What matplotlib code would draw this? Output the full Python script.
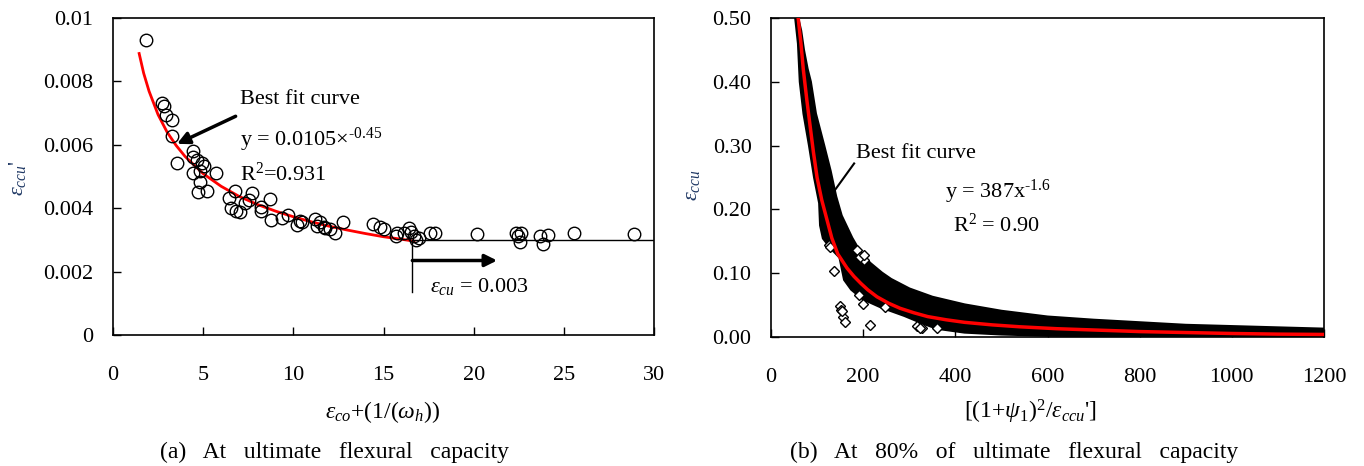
import matplotlib.pyplot as plt
import numpy as np

plt.rcParams['font.family'] = ['Liberation Serif', 'DejaVu Serif']
plt.rcParams['mathtext.fontset'] = 'custom'
plt.rcParams['mathtext.rm'] = 'Liberation Serif'
plt.rcParams['mathtext.it'] = 'Liberation Serif:italic'
plt.rcParams['mathtext.bf'] = 'Liberation Serif:bold'

# ---- (a) measured points ----
a_x = [1.82, 2.74, 2.85, 2.94, 3.26, 3.26, 3.54, 4.46, 4.46, 4.65, 4.93, 5.06, 4.83, 4.46,
       5.72, 4.80, 4.70, 5.24, 6.41, 6.74, 6.54, 6.82, 7.02, 7.33, 7.52, 7.70, 8.20, 8.20,
       8.68, 8.76, 9.37, 9.68, 10.2, 10.35, 10.48, 11.22, 11.32, 11.5, 11.68, 11.78, 12.06,
       12.33, 12.76, 14.43, 14.83, 15.02, 15.76, 15.67, 16.13, 16.41, 16.5, 16.68, 16.96,
       16.78, 17.6, 17.83, 20.2, 22.33, 22.61, 22.46, 22.56, 23.69, 24.13, 23.82, 25.54, 28.87]
a_y = [0.00932, 0.00732, 0.00721, 0.00695, 0.00679, 0.00629, 0.00543, 0.00579, 0.00563,
       0.00553, 0.00543, 0.00532, 0.00516, 0.00511, 0.00511, 0.00484, 0.00450, 0.00453,
       0.00432, 0.00455, 0.00400, 0.00392, 0.00388, 0.00416, 0.00427, 0.00448, 0.00405,
       0.00392, 0.00429, 0.00363, 0.00369, 0.00377, 0.00348, 0.00361, 0.00356, 0.00366,
       0.00344, 0.00358, 0.00342, 0.00337, 0.00334, 0.00321, 0.00355, 0.00351, 0.00342,
       0.00334, 0.00323, 0.00311, 0.00323, 0.00337, 0.00325, 0.00311, 0.00306, 0.00300,
       0.00323, 0.00323, 0.00318, 0.00321, 0.00323, 0.00311, 0.00293, 0.00311, 0.00316,
       0.00288, 0.00323, 0.00319]

# best fit curve (a)
a_fit_x = [1.45, 1.7, 2.0, 2.5, 3.0, 3.5, 4.0, 5.0, 6.0, 7.0, 8.0, 9.0, 10.0, 11.0, 12.0,
           13.0, 14.0, 15.0, 16.0, 16.7]
a_fit_y = [0.00888, 0.00826, 0.00769, 0.00695, 0.00640, 0.00598, 0.00563, 0.00509, 0.00469,
           0.00437, 0.00412, 0.00391, 0.00373, 0.00357, 0.00343, 0.00331, 0.00320, 0.00310,
           0.00302, 0.00296]

eps_cu = 0.003
x_limit = 16.6

# ---- (b) data cloud envelope ----
b_upper_x = [56, 64, 70, 78, 85, 96, 114, 128, 140, 152, 175, 195, 215, 240, 260, 300, 350,
             420, 500, 600, 700, 800, 900, 1000, 1100, 1200, 1205]
b_upper_y = [0.505, 0.48, 0.45, 0.42, 0.40, 0.35, 0.30, 0.26, 0.22, 0.19, 0.155, 0.13, 0.115,
             0.10, 0.09, 0.075, 0.062, 0.05, 0.04, 0.031, 0.026, 0.022, 0.018, 0.016, 0.014,
             0.012, 0.004]
b_lower_x = [54, 60, 64, 72, 84, 95, 106, 108, 114, 130, 150, 160, 175, 200, 240, 290, 330,
             360, 420, 500, 600, 800, 1000, 1205]
b_lower_y = [0.50, 0.46, 0.40, 0.35, 0.30, 0.25, 0.21, 0.175, 0.155, 0.14, 0.125, 0.09, 0.075,
             0.060, 0.047, 0.034, 0.022, 0.014, 0.008, 0.005, 0.003, 0.002, 0.001, 0.001]

# scattered outliers (b)
b_out_x = [125, 137, 150, 152, 156, 161, 199, 215, 248, 190, 202, 186, 317, 327, 360, 128, 154,
           194, 201, 324]
b_out_y = [0.144, 0.104, 0.048, 0.042, 0.031, 0.024, 0.052, 0.019, 0.047, 0.066, 0.121, 0.136,
           0.017, 0.0135, 0.0135, 0.141, 0.040, 0.125, 0.128, 0.0135]

# best fit curve (b)
b_fit_x = [59, 65, 70, 78, 85, 92, 100, 110, 121, 132, 145, 165, 180, 195, 210, 230, 255, 280,
           310, 340, 380, 420, 480, 540, 620, 700, 800, 900, 1000, 1100, 1200]
b_fit_y = [0.50, 0.46, 0.42, 0.37, 0.33, 0.29, 0.25, 0.215, 0.185, 0.155, 0.13, 0.108, 0.095,
           0.084, 0.074, 0.063, 0.053, 0.045, 0.038, 0.032, 0.027, 0.023, 0.019, 0.016, 0.013,
           0.011, 0.0085, 0.007, 0.0055, 0.0045, 0.004]

FS = 16
navy = '#1f3864'

fig = plt.figure(figsize=(13.64, 4.66), dpi=100)
ax1 = fig.add_axes([113/1364, 1-335/466, (654-113)/1364, (335-18)/466])
ax2 = fig.add_axes([771/1364, 1-337/466, (1324-771)/1364, (337-18)/466])

# ----- panel (a) -----
ax1.plot(a_fit_x, a_fit_y, color='red', lw=2, zorder=2)
ax1.plot(a_x, a_y, 'o', ms=9, mfc='none', mec='black', mew=1, zorder=3)
ax1.plot([x_limit, 30], [eps_cu, eps_cu], color='black', lw=1)
ax1.plot([x_limit, x_limit], [eps_cu, 0.00135], color='black', lw=1)
ax1.annotate('', xy=(21.3, 0.00235), xytext=(x_limit, 0.00235),
             arrowprops=dict(arrowstyle='-|>', color='black', lw=2.5, mutation_scale=18,
                             shrinkA=0, shrinkB=0))
ax1.annotate('', xy=(3.55, 0.00603), xytext=(6.8, 0.0069),
             arrowprops=dict(arrowstyle='-|>', color='black', lw=2.5, mutation_scale=18,
                             shrinkA=0, shrinkB=0))
ax1.text(7.05, 0.00743, 'Best fit curve', fontsize=FS, va='center')
ax1.text(7.05, 0.00616, r'y = 0.0105$\times^{\text{-0.45}}$', fontsize=FS, va='center')
ax1.text(7.05, 0.00506, r'R$^2$=0.931', fontsize=FS, va='center')
ax1.text(17.6, 0.00153, r'$\varepsilon_{cu}$ = 0.003', fontsize=FS, va='center')

ax1.set_xlim(0, 30)
ax1.set_ylim(0, 0.01)
ax1.set_xticks([0, 5, 10, 15, 20, 25, 30])
ax1.set_yticks([0, 0.002, 0.004, 0.006, 0.008, 0.01])
ax1.set_yticklabels(['0', '0.002', '0.004', '0.006', '0.008', '0.01'])

# ----- panel (b) -----
poly_x = b_upper_x + b_lower_x[::-1]
poly_y = b_upper_y + b_lower_y[::-1]
ax2.fill(poly_x, poly_y, facecolor='black', edgecolor='black', lw=2.5, zorder=2)
ax2.plot(b_out_x, b_out_y, 'D', ms=5, mfc='white', mec='black', mew=1, zorder=3)
ax2.plot(b_fit_x, b_fit_y, color='red', lw=2.5, zorder=4)
ax2.plot([180.4, 135.4], [0.272, 0.227], color='black', lw=1.5, zorder=5)
ax2.text(185, 0.2875, 'Best fit curve', fontsize=FS, va='center')
ax2.text(378, 0.227, r'y = 387x$^{\text{-1.6}}$', fontsize=FS, va='center')
ax2.text(396, 0.175, r'R$^2$ = 0.90', fontsize=FS, va='center')

ax2.set_xlim(0, 1200)
ax2.set_ylim(0, 0.5)
ax2.set_xticks(range(0, 1201, 200))
ax2.set_yticks([0, 0.1, 0.2, 0.3, 0.4, 0.5])
ax2.set_yticklabels(['0.00', '0.10', '0.20', '0.30', '0.40', '0.50'])

for ax in (ax1, ax2):
    ax.tick_params(direction='in', length=6, width=1, labelsize=FS)
    ax.tick_params(axis='x', pad=22)
    ax.tick_params(axis='y', pad=14)
    for s in ax.spines.values():
        s.set_linewidth(1.2)

fig.text(17/1364, 1-178/466, r"$\varepsilon_{ccu}$'", rotation=90, fontsize=FS, color=navy,
         ha='center', va='center')
fig.text(383/1364, 1-412/466, r'$\varepsilon_{co}$+(1/($\omega_h$))', fontsize=17,
         ha='center', va='center')
fig.text(693/1364, 1-185/466, r'$\varepsilon_{ccu}$', rotation=90, fontsize=FS, color=navy,
         ha='center', va='center')
fig.text(1030/1364, 1-412/466, r"[(1+$\psi_1$)$^2$/$\varepsilon_{ccu}$']", fontsize=17,
         ha='center', va='center')

fig.text(335/1364, 1-452/466, '(a)   At   ultimate   flexural   capacity', fontsize=17,
         ha='center', va='center')
fig.text(1014/1364, 1-452/466, '(b)   At   80%   of   ultimate   flexural   capacity',
         fontsize=17, ha='center', va='center')

fig.savefig('out.png', dpi=100)
